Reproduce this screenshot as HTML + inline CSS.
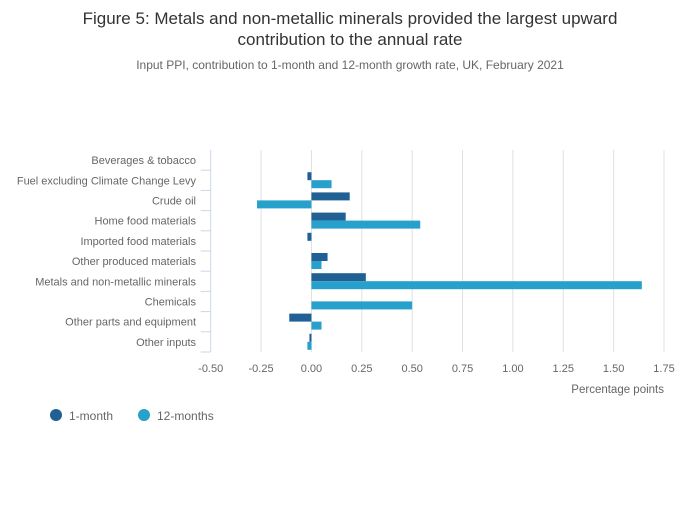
<!DOCTYPE html>
<html><head><meta charset="utf-8"><style>
body{margin:0;background:#fff;font-family:"Liberation Sans",sans-serif;}
svg text{font-family:"Liberation Sans",sans-serif;}
</style></head><body>
<svg width="700" height="502">
<text x="350" y="24" text-anchor="middle" font-size="17" fill="#333">Figure 5: Metals and non-metallic minerals provided the largest upward</text>
<text x="350" y="45" text-anchor="middle" font-size="17" fill="#333">contribution to the annual rate</text>
<text x="350" y="69" text-anchor="middle" font-size="12" fill="#666">Input PPI, contribution to 1-month and 12-month growth rate, UK, February 2021</text>
<g id="grid"></g><g id="bars"></g><g id="axes"></g>
<text x="664" y="393" text-anchor="end" font-size="11.5" fill="#666">Percentage points</text>
<g>
<circle cx="56" cy="415" r="6" fill="#206095"/>
<text x="69" y="420" font-size="12" fill="#666">1-month</text>
<circle cx="144" cy="415" r="6" fill="#27a0cc"/>
<text x="157" y="420" font-size="12" fill="#666">12-months</text>
</g>
</svg>
<script>
const categories=["Beverages & tobacco","Fuel excluding Climate Change Levy","Crude oil","Home food materials","Imported food materials","Other produced materials","Metals and non-metallic minerals","Chemicals","Other parts and equipment","Other inputs"];
const oneMonth=[0,-0.02,0.19,0.17,-0.02,0.08,0.27,0,-0.11,-0.01];
const twelveMonths=[0,0.10,-0.27,0.54,0,0.05,1.64,0.50,0.05,-0.02];
const ticks=[-0.5,-0.25,0,0.25,0.5,0.75,1,1.25,1.5,1.75];
const tickLabels=["-0.50","-0.25","0.00","0.25","0.50","0.75","1.00","1.25","1.50","1.75"];
const NS="http://www.w3.org/2000/svg";
const x0=210.7,x1=664,yTop=150,yBot=352;
const xs=v=>x0+(v+0.5)*(x1-x0)/2.25;
const band=(yBot-yTop)/categories.length;
function mk(tag,attrs,parent){const e=document.createElementNS(NS,tag);for(const k in attrs)e.setAttribute(k,attrs[k]);document.getElementById(parent).appendChild(e);return e;}
ticks.forEach((t,i)=>{
 if(i>0){const g=mk('line',{x1:xs(t),x2:xs(t),y1:yTop,y2:yBot,stroke:'#e0e0e0','stroke-width':1},'grid');
 
 }
 const tx=mk('text',{x:xs(t),y:372,'text-anchor':'middle','font-size':11,fill:'#666'},'axes');
 tx.textContent=tickLabels[i];
 
 
});
const ax=mk('line',{x1:x0,x2:x0,y1:yTop,y2:yBot,stroke:'#ccd6eb','stroke-width':1},'axes');


categories.forEach((c,i)=>{
 const y=yTop+i*band;
 const tk=mk('line',{x1:x0-10,x2:x0,y1:y+band,y2:y+band,stroke:'#ccd6eb'},'axes');
 
 
 const t=mk('text',{x:196,y:y+band/2+4,'text-anchor':'end','font-size':11,fill:'#666'},'axes');
 t.textContent=c;
 
 
 [[oneMonth,'#206095',0],[twelveMonths,'#27a0cc',1]].forEach(([arr,col,k])=>{
  const v=arr[i];if(v===0)return;
  const a=xs(0),b=xs(v);
  const r=mk('rect',{x:Math.min(a,b),y:y+2+k*8,width:Math.abs(b-a),height:8,fill:col},'bars');
  
  
 });
});
</script>
</body></html>
